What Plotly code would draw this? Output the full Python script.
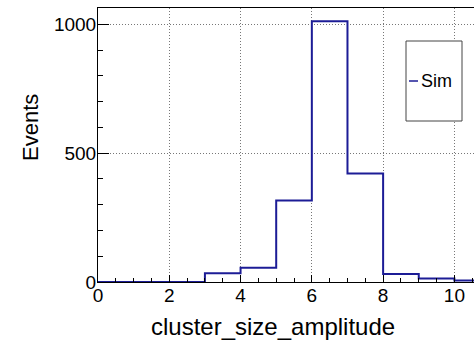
import plotly.graph_objects as go

# Histogram data (bin edges and counts)
bin_edges = [0, 1, 2, 3, 4, 5, 6, 7, 8, 9, 10, 11]
counts = [0, 0, 0, 34, 55, 316, 1013, 421, 31, 14, 6]
series_name = "Sim"
x_ticks = [0, 2, 4, 6, 8, 10]
y_ticks = [0, 500, 1000]

W, H = 474, 348
L, R, T, B = 98, 0, 8, 66

# step line points (hv)
xs = list(bin_edges)
ys = counts + [counts[-1]]

fig = go.Figure()
fig.add_trace(go.Scatter(
    x=xs, y=ys, mode="lines", line_shape="hv", name=series_name,
    line=dict(color="#1c1c96", width=2), showlegend=False,
))

font = "Liberation Sans, Arial, Helvetica, sans-serif"
fig.update_layout(
    width=W, height=H,
    margin=dict(l=L, r=R, t=T, b=B),
    paper_bgcolor="white", plot_bgcolor="white",
    font=dict(family=font, color="black", size=18),
    xaxis=dict(
        range=[0, 10.55], tickvals=x_ticks, ticks="inside", ticklen=7,
        tickcolor="black", showline=True, linecolor="black", linewidth=1,
        mirror=True, showgrid=True, gridcolor="#777", griddash="1px,2px",
        gridwidth=1, zeroline=False, tickfont=dict(size=19),
        ticklabelstandoff=-4,
        minor=dict(dtick=0.5, ticks="inside", ticklen=4, tickcolor="black", showgrid=False),
    ),
    yaxis=dict(
        range=[0, 1064], tickvals=y_ticks, ticks="inside", ticklen=11,
        tickcolor="black", showline=True, linecolor="black", linewidth=1,
        mirror=False, showgrid=True, gridcolor="#777", griddash="1px,2px",
        gridwidth=1, zeroline=False, tickfont=dict(size=19),
        ticklabelstandoff=-3,
        minor=dict(dtick=100, ticks="inside", ticklen=5, tickcolor="black", showgrid=False),
    ),
)

pw, ph = W - L - R, H - T - B
def px(xp):
    return (xp - L) / pw
def py(yp):
    return (H - B - yp) / ph

# axis titles
fig.add_annotation(text="Events", xref="paper", yref="paper", x=px(30), y=py(128),
                   showarrow=False, textangle=-90, font=dict(size=22, color="black"),
                   xanchor="center", yanchor="middle")
fig.add_annotation(text="cluster_size_amplitude", xref="paper", yref="paper",
                   x=px(273), y=py(326), showarrow=False, font=dict(size=24, color="black"),
                   xanchor="center", yanchor="middle")

# legend box
fig.add_shape(type="rect", xref="paper", yref="paper",
              x0=px(406), x1=px(462), y0=py(121), y1=py(41),
              line=dict(color="#444", width=1), fillcolor="white")
fig.add_shape(type="line", xref="paper", yref="paper",
              x0=px(409), x1=px(418), y0=py(81), y1=py(81),
              line=dict(color="#1c1c96", width=1.5))
fig.add_annotation(text=series_name, xref="paper", yref="paper", x=px(419), y=py(81),
                   showarrow=False, font=dict(size=18, color="black"), xanchor="left", yanchor="middle")

fig.write_html("out.html")
